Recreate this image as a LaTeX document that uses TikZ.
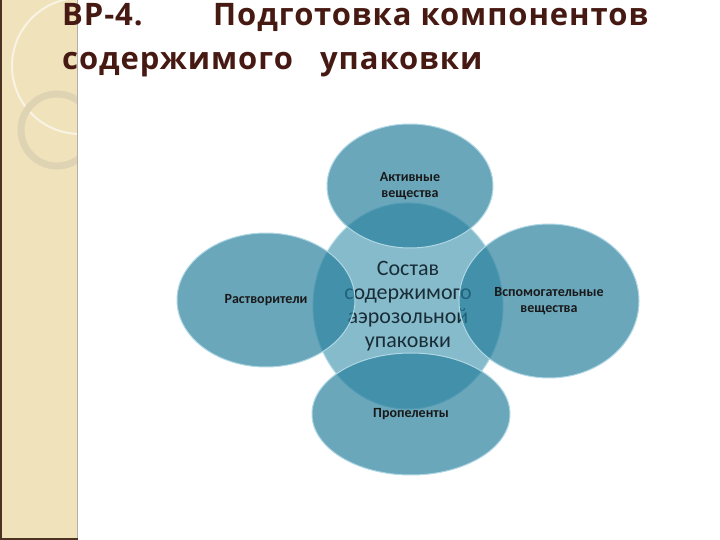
\documentclass[tikz,border=0pt]{standalone}
\usepackage{fontspec}
\setmainfont{Carlito}
\newfontfamily\headfont[LetterSpace=3]{Open Sans}
\usepackage{tikz}
\usetikzlibrary{shapes.geometric}
\definecolor{petalblue}{RGB}{36,125,155}
\definecolor{petaledge}{RGB}{175,215,228}
\definecolor{coreblue}{RGB}{60,145,172}
\definecolor{titlebrown}{RGB}{70,26,18}
\definecolor{stripbeige}{RGB}{240,227,188}
\definecolor{stripring}{RGB}{222,212,180}
\definecolor{stripline}{RGB}{75,50,35}
\tikzstyle{petal} = [ellipse, draw=petaledge, line width=1pt, fill=petalblue, fill opacity=0.68,
text opacity=1, inner sep=0pt, align=center, text=black!90, font=\fontsize{14}{16}\selectfont\bfseries]
\tikzstyle{core} = [ellipse, draw=petaledge, line width=1pt, fill=coreblue, fill opacity=0.62,
text opacity=1, inner sep=0pt, align=center, text={rgb,255:red,25;green,45;blue,55}, font=\fontsize{22}{24}\selectfont]
\tikzstyle{heading} = [anchor=base west, inner sep=0pt, text=titlebrown, font=\headfont\fontsize{31}{34}\selectfont\bfseries]

\begin{document}
\begin{tikzpicture}[x=1pt, y=-1pt]
                 \useasboundingbox (0,0) rectangle (720,540);
                 % side strip
                 \fill[stripbeige] (0,0) rectangle (78,540);
                 \begin{scope}
                   \clip (2,0) rectangle (77,538);
                   \draw[white, opacity=0.6, line width=2pt] (80,66) circle (68);
                   \draw[stripring, line width=7pt] (57,130) circle (36);
                 \end{scope}
                 \draw[stripline, line width=2pt] (1,0) -- (1,540);
                 \draw[stripline, line width=2pt] (0,539) -- (78,539);
                 \draw[stripline!40, line width=0.8pt] (77.5,0) -- (77.5,538);
                 % title
                 \node (t1) [heading] at (62,26) {ВР-4.};
                 \node (t2) [heading] at (213,26) {Подготовка компонентов};
                 \node (t3) [heading] at (62,70) {содержимого};
                 \node (t4) [heading] at (320,70) {упаковки};
                 % diagram
                 \node (comp) [core, minimum width=190, minimum height=206] at (408,306)
                   {Состав\\содержимого\\аэрозольной\\упаковки};
                 \node (act) [petal, minimum width=166, minimum height=124] at (410,186)
                   {Активные\\вещества};
                 \node (solv) [petal, minimum width=178, minimum height=134] at (266,300)
                   {Растворители};
                 \node (aux) [petal, minimum width=180, minimum height=154] at (549,301)
                   {Вспомогательные\\вещества};
                 \node (prop) [petal, minimum width=198, minimum height=122] at (411,414)
                   {Пропеленты};
             \end{tikzpicture}
\end{document}
